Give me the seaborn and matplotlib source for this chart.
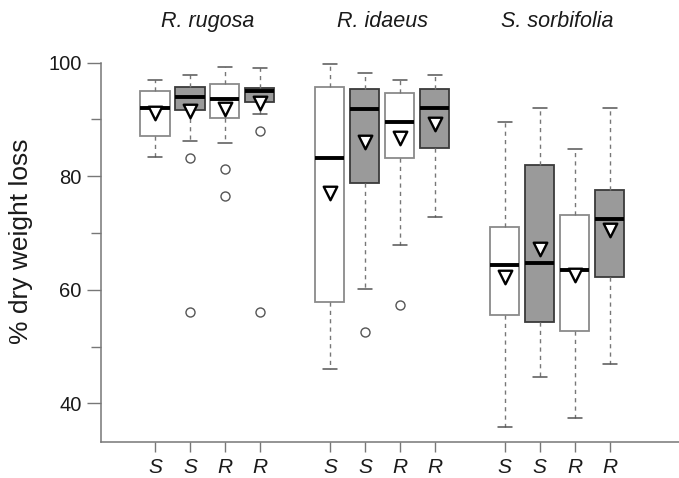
import numpy as np
import pandas as pd
import matplotlib
matplotlib.use('Agg')
import matplotlib.pyplot as plt
import matplotlib.transforms as mtransforms
import seaborn as sns

# data (% dry weight loss)
species = ['R. rugosa', 'R. idaeus', 'S. sorbifolia']
treat = ['S', 'S', 'R', 'R']
shaded = [False, True, False, True]

whislo = [83.4, 86.2, 85.9, 91.0, 46.0, 60.1, 67.9, 72.8, 35.8, 44.7, 37.5, 46.9]
q1 = [87.1, 91.7, 90.2, 93.0, 57.9, 78.8, 83.3, 84.9, 55.6, 54.3, 52.7, 62.3]
med = [92.1, 94.0, 93.6, 95.1, 83.2, 91.8, 89.5, 92.1, 64.4, 64.7, 63.5, 72.5]
q3 = [95.1, 95.8, 96.2, 95.6, 95.8, 95.3, 94.6, 95.4, 71.0, 81.9, 73.1, 77.6]
whishi = [97.0, 97.8, 99.3, 99.1, 99.7, 98.2, 96.9, 97.8, 89.6, 92.0, 84.8, 92.1]
means = [91.1, 91.5, 91.9, 92.9, 77.1, 86.1, 86.7, 89.2, 62.3, 67.1, 62.6, 70.5]
fliers = [[], [83.2, 56.0], [81.3, 76.6], [87.9, 56.0],
          [], [52.6], [57.3], [],
          [], [], [], []]

# positions: 4 boxes per species with a gap between species
pos = [g * 5 + i + 1 for g in range(len(species)) for i in range(len(treat))]
labels = treat * len(species)
fills = shaded * len(species)

sns.set_style('ticks')
plt.rcParams['font.family'] = ['Liberation Sans', 'DejaVu Sans']
plt.rcParams['text.color'] = '#1a1a1a'

fig = plt.figure(figsize=(6.79, 4.78), dpi=100)
ax = fig.add_axes([101 / 679, 36.3 / 478, 578 / 679, 401.7 / 478])

for i in range(len(pos)):
    st = dict(whislo=whislo[i], q1=q1[i], med=med[i], q3=q3[i],
              whishi=whishi[i], fliers=fliers[i])
    grey = fills[i]
    ax.bxp([st], positions=[pos[i]], widths=0.83, patch_artist=True,
           showfliers=True, capwidths=0.4,
           boxprops=dict(facecolor='#9a9a9a' if grey else 'white',
                         edgecolor='#3a3a3a' if grey else '#8a8a8a', linewidth=1.3),
           medianprops=dict(color='black', linewidth=2.8, solid_capstyle='butt'),
           whiskerprops=dict(color='#777777', linewidth=1.0, linestyle=(0, (3, 3))),
           capprops=dict(color='#555555', linewidth=1.1),
           flierprops=dict(marker='o', markerfacecolor='none', markeredgecolor='#555555',
                           markersize=6.5, markeredgewidth=1.0))

# means as open down-triangles
mean_df = pd.DataFrame({'pos': pos, 'mean': means})
sns.scatterplot(data=mean_df, x='pos', y='mean', marker='v', s=95, color='white',
                edgecolor='black', linewidth=1.7, zorder=5, ax=ax, legend=False)

ax.set_xlim(-0.544, 15.98)
ax.set_ylim(33.24, 104.0)
ax.set_yticks([40, 60, 80, 100])
ax.set_yticks([50, 70, 90], minor=True)
ax.set_xticks(pos)
ax.set_xticklabels(labels, fontstyle='italic', fontsize=15)
ax.tick_params(axis='both', labelcolor='#1a1a1a')
ax.tick_params(axis='y', labelsize=14.5, length=10, width=1.0, color='#777777', pad=4)
ax.tick_params(axis='y', which='minor', length=7, width=1.0, color='#777777')
ax.tick_params(axis='x', length=7, width=1.0, color='#777777', pad=5)
ax.set_xlabel('')
ax.set_ylabel('% dry weight loss', fontsize=19, color='#1a1a1a')
ax.yaxis.set_label_coords(-0.118, 0.50)

for side in ['top', 'right']:
    ax.spines[side].set_visible(False)
for side in ['left', 'bottom']:
    ax.spines[side].set_color('#777777')
    ax.spines[side].set_linewidth(1.1)
ax.spines['left'].set_bounds(33.24, 100)

trans = mtransforms.blended_transform_factory(ax.transData, fig.transFigure)
for g, name in enumerate(species):
    xc = np.mean(pos[g * 4:(g + 1) * 4])
    ax.text(xc, 0.954, name, transform=trans, ha='center', va='center',
            fontsize=15.5, fontstyle='italic')

fig.savefig('out.png', dpi=100)
